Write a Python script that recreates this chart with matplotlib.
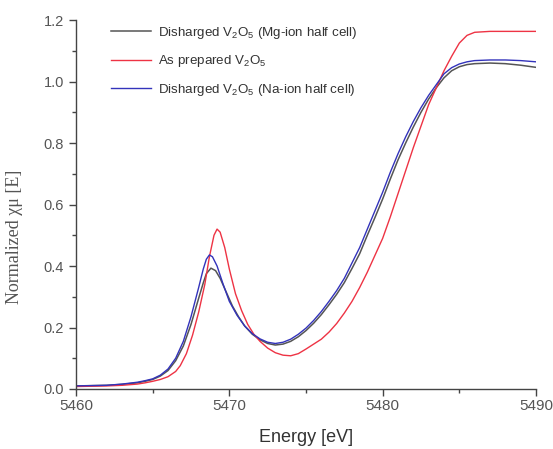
import matplotlib
matplotlib.use("Agg")
import matplotlib.pyplot as plt

energy_na = [5460, 5462, 5463, 5464, 5464.5, 5465, 5465.5, 5466, 5466.5, 5467, 5467.5, 5468, 5468.3, 5468.5,
             5468.7, 5468.9, 5469.2, 5469.6, 5470, 5470.5, 5471, 5471.5, 5472, 5472.5, 5473, 5473.5, 5474,
             5474.5, 5475, 5475.5, 5476, 5476.5, 5477, 5477.5, 5478, 5478.5, 5479, 5479.5, 5480, 5480.5,
             5481, 5481.5, 5482, 5482.5, 5483, 5483.5, 5484, 5484.5, 5485, 5485.5, 5486, 5487, 5488, 5489, 5490]
mu_na = [0.01, 0.012, 0.016, 0.022, 0.027, 0.033, 0.045, 0.065, 0.1, 0.155, 0.235, 0.33, 0.39, 0.422,
         0.436, 0.43, 0.4, 0.34, 0.285, 0.24, 0.205, 0.18, 0.163, 0.152, 0.148, 0.152, 0.162,
         0.178, 0.198, 0.223, 0.252, 0.285, 0.32, 0.36, 0.41, 0.46, 0.52, 0.58, 0.64, 0.705,
         0.765, 0.82, 0.87, 0.915, 0.955, 0.99, 1.025, 1.045, 1.057, 1.064, 1.068, 1.07, 1.07, 1.068, 1.064]

energy_mg = [5460, 5462, 5463, 5464, 5464.5, 5465, 5465.5, 5466, 5466.5, 5467, 5467.5, 5468, 5468.3, 5468.5,
             5468.8, 5469.1, 5469.4, 5469.8, 5470.2, 5470.6, 5471, 5471.5, 5472, 5472.5, 5473, 5473.5, 5474,
             5474.5, 5475, 5475.5, 5476, 5476.5, 5477, 5477.5, 5478, 5478.5, 5479, 5479.5, 5480, 5480.5,
             5481, 5481.5, 5482, 5482.5, 5483, 5483.5, 5484, 5484.5, 5485, 5485.5, 5486, 5487, 5488, 5489, 5490]
mu_mg = [0.01, 0.012, 0.015, 0.02, 0.025, 0.031, 0.042, 0.06, 0.092, 0.14, 0.21, 0.295, 0.345, 0.375,
         0.393, 0.385, 0.36, 0.315, 0.27, 0.235, 0.205, 0.178, 0.16, 0.148, 0.143, 0.146, 0.155,
         0.17, 0.19, 0.214, 0.242, 0.274, 0.308, 0.346, 0.392, 0.44, 0.5, 0.558, 0.618, 0.683,
         0.745, 0.8, 0.852, 0.9, 0.943, 0.98, 1.012, 1.035, 1.048, 1.055, 1.058, 1.06, 1.058, 1.053, 1.046]

energy_prep = [5460, 5462, 5463, 5464, 5464.5, 5465, 5465.5, 5466, 5466.5, 5466.8, 5467.2, 5467.6, 5468,
               5468.4, 5468.7, 5469, 5469.2, 5469.4, 5469.7, 5470, 5470.4, 5470.8, 5471.2, 5471.6, 5472,
               5472.5, 5473, 5473.5, 5474, 5474.5, 5475, 5475.5, 5476, 5476.5, 5477, 5477.5, 5478, 5478.5,
               5479, 5479.5, 5480, 5480.5, 5481, 5481.5, 5482, 5482.5, 5483, 5483.5, 5484, 5484.5, 5485,
               5485.5, 5486, 5487, 5488, 5489, 5490]
mu_prep = [0.008, 0.01, 0.012, 0.016, 0.02, 0.025, 0.031, 0.04, 0.057, 0.076, 0.115, 0.175, 0.25,
           0.34, 0.43, 0.5, 0.52, 0.51, 0.46, 0.39, 0.31, 0.255, 0.21, 0.178, 0.155,
           0.133, 0.118, 0.11, 0.108, 0.115, 0.13, 0.146, 0.162, 0.185, 0.213, 0.247, 0.285, 0.33,
           0.38, 0.435, 0.49, 0.56, 0.635, 0.71, 0.785, 0.855, 0.925, 0.98, 1.035, 1.082, 1.125,
           1.15, 1.16, 1.163, 1.163, 1.163, 1.163]

labels = [r"Disharged V$_\mathregular{2}$O$_\mathregular{5}$ (Mg-ion half cell)",
          r"As prepared V$_\mathregular{2}$O$_\mathregular{5}$",
          r"Disharged V$_\mathregular{2}$O$_\mathregular{5}$ (Na-ion half cell)"]

x_ticks = [5460, 5470, 5480, 5490]
y_ticks = [0.0, 0.2, 0.4, 0.6, 0.8, 1.0, 1.2]

plt.rcParams['font.family'] = ['Liberation Sans', 'DejaVu Sans']

fig = plt.figure(figsize=(5.53, 4.49), dpi=100)
ax = fig.add_axes([76/553, 1-389/449, 460/553, 369/449])

ax.plot(energy_mg, mu_mg, color="#555555", lw=1.1, label=labels[0])
ax.plot(energy_prep, mu_prep, color="#ee3344", lw=1.0, label=labels[1])
ax.plot(energy_na, mu_na, color="#3333bb", lw=1.0, label=labels[2])

ax.set_xlim(5460, 5490)
ax.set_ylim(0, 1.2)
ax.set_xticks(x_ticks)
ax.set_yticks(y_ticks)
ax.set_yticklabels([f"{v:.1f}" for v in y_ticks])
ax.set_xticks([5465, 5475, 5485], minor=True)
ax.set_yticks([0.1, 0.3, 0.5, 0.7, 0.9, 1.1], minor=True)

for s in ["top", "right"]:
    ax.spines[s].set_visible(False)
for s in ["left", "bottom"]:
    ax.spines[s].set_color("#444444")
    ax.spines[s].set_linewidth(1.0)

ax.tick_params(which="major", direction="out", length=5, width=1, color="#444444",
               labelcolor="#555555")
ax.tick_params(axis="x", which="major", labelsize=11, pad=2)
ax.tick_params(axis="y", which="major", labelsize=10.5)
ax.tick_params(which="minor", direction="out", length=3, width=1, color="#444444")

ax.set_xlabel("Energy [eV]", fontsize=13, color="#333333")
ax.xaxis.set_label_coords(0.5, -(429 - 389) / 369)
ax.set_ylabel("Normalized χμ [E]", fontsize=13, color="#555555",
              family=["Liberation Serif", "DejaVu Serif"])
ax.yaxis.set_label_coords((23 - 76) / 460, (389 - 237) / 369)

leg = ax.legend(loc="upper left", bbox_to_anchor=(0.05, 1.02), frameon=False, fontsize=9.6,
                handlelength=3.0, labelspacing=0.95, handletextpad=0.5)
for t in leg.get_texts():
    t.set_color("#333333")

fig.savefig("out.png", dpi=100)
